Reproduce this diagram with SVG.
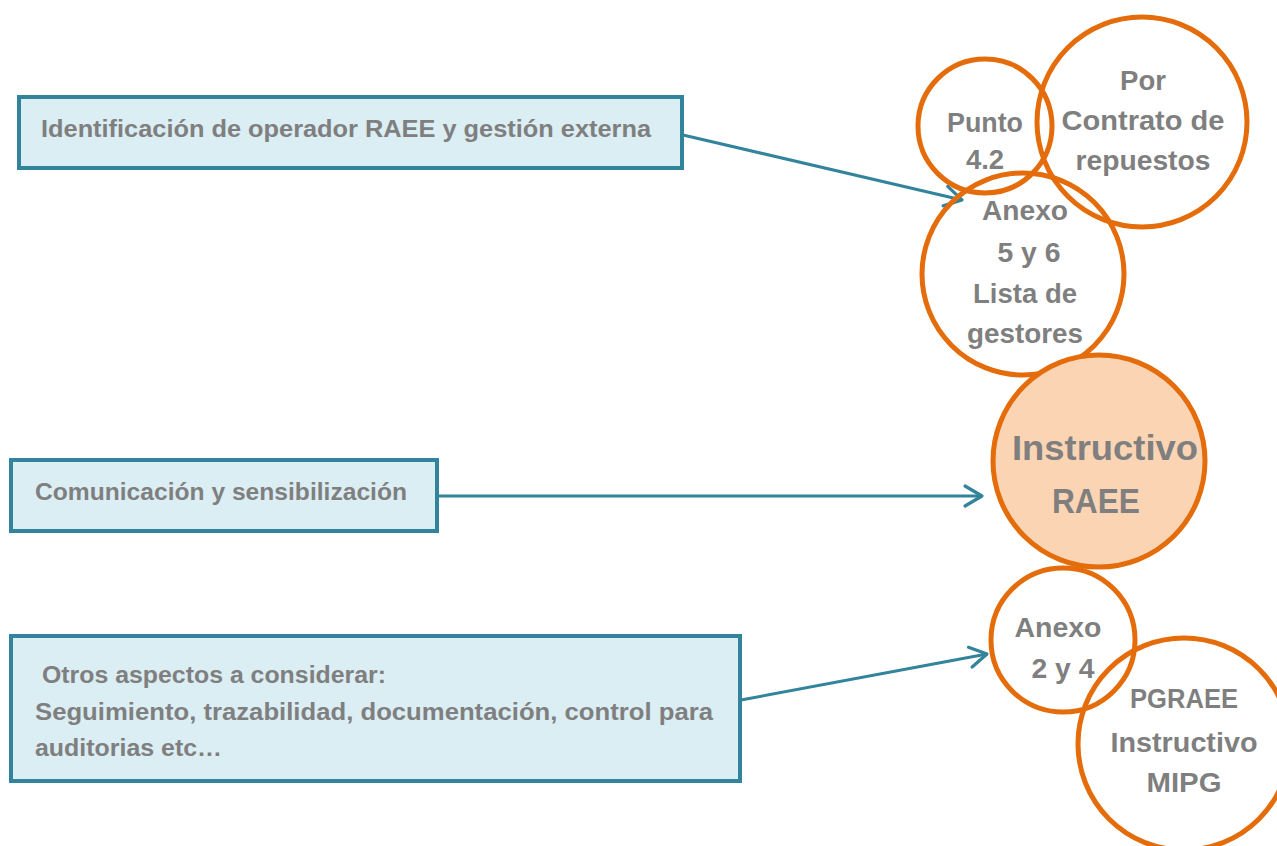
<svg xmlns="http://www.w3.org/2000/svg" width="1277" height="846" viewBox="0 0 1277 846">
<style>
.box{fill:#DBEEF4;stroke:#31849B;stroke-width:4}
.ring{fill:none;stroke:#E46C0A;stroke-width:5}
.t{font-family:"Liberation Sans",Arial,sans-serif;font-weight:bold;fill:#7F7F7F}
.bt{font-size:23.5px}
.ct{font-size:27.5px;text-anchor:middle}
.big{font-size:35px;text-anchor:middle}
.conn{stroke:#31849B;stroke-width:3;fill:none}
</style>
<defs>
<marker id="arr" markerUnits="userSpaceOnUse" viewBox="0 0 26 26" refX="23" refY="13" markerWidth="26" markerHeight="26" orient="auto">
<path d="M6,3 L23,13 L6,23" fill="none" stroke="#31849B" stroke-width="3.2" stroke-linecap="round" stroke-linejoin="round"/>
</marker>
</defs>
<rect width="1277" height="846" fill="#FFFFFF"/>
<g id="connectors">
<line class="conn" x1="683" y1="135" x2="962" y2="200" marker-end="url(#arr)"/>
<line class="conn" x1="438" y1="496" x2="982" y2="496" marker-end="url(#arr)"/>
<line class="conn" x1="741" y1="700" x2="987" y2="654" marker-end="url(#arr)"/>
</g>
<g id="box-identificacion">
<rect class="box" x="19" y="97" width="663" height="71"/>
<text class="t bt" x="41" y="137" textLength="610" lengthAdjust="spacingAndGlyphs">Identificación de operador RAEE y gestión externa</text>
</g>
<g id="box-comunicacion">
<rect class="box" x="11" y="460" width="426" height="71"/>
<text class="t bt" x="35" y="500" textLength="372" lengthAdjust="spacingAndGlyphs">Comunicación y sensibilización</text>
</g>
<g id="box-otros">
<rect class="box" x="11" y="636" width="729" height="145"/>
<text class="t bt" x="42" y="683" textLength="344" lengthAdjust="spacingAndGlyphs">Otros aspectos a considerar:</text>
<text class="t bt" x="35" y="720" textLength="678" lengthAdjust="spacingAndGlyphs">Seguimiento, trazabilidad, documentación, control para</text>
<text class="t bt" x="35" y="756" textLength="187" lengthAdjust="spacingAndGlyphs">auditorias etc…</text>
</g>
<g id="circle-punto">
<circle class="ring" cx="985" cy="126" r="67"/>
<text class="t ct" x="985" y="132" textLength="76" lengthAdjust="spacingAndGlyphs">Punto</text>
<text class="t ct" x="985" y="169">4.2</text>
</g>
<g id="circle-contrato">
<circle class="ring" cx="1142" cy="122" r="105"/>
<text class="t ct" x="1143" y="90">Por</text>
<text class="t ct" x="1143" y="130" textLength="163" lengthAdjust="spacingAndGlyphs">Contrato de</text>
<text class="t ct" x="1143" y="170" textLength="135" lengthAdjust="spacingAndGlyphs">repuestos</text>
</g>
<g id="circle-anexo56">
<circle class="ring" cx="1023" cy="274" r="101"/>
<text class="t ct" x="1025" y="220" textLength="86" lengthAdjust="spacingAndGlyphs">Anexo</text>
<text class="t ct" x="1029" y="262" textLength="63" lengthAdjust="spacingAndGlyphs">5 y 6</text>
<text class="t ct" x="1025" y="303" textLength="104" lengthAdjust="spacingAndGlyphs">Lista de</text>
<text class="t ct" x="1025" y="343" textLength="116" lengthAdjust="spacingAndGlyphs">gestores</text>
</g>
<g id="circle-instructivo">
<circle cx="1099" cy="461" r="106" fill="#FBD4B4" stroke="#E46C0A" stroke-width="5"/>
<text class="t big" x="1105" y="460" textLength="186" lengthAdjust="spacingAndGlyphs">Instructivo</text>
<text class="t big" x="1096" y="513" textLength="88" lengthAdjust="spacingAndGlyphs">RAEE</text>
</g>
<g id="circle-anexo24">
<circle class="ring" cx="1063" cy="640" r="72"/>
<text class="t ct" x="1058" y="637" textLength="87" lengthAdjust="spacingAndGlyphs">Anexo</text>
<text class="t ct" x="1063" y="678" textLength="63" lengthAdjust="spacingAndGlyphs">2 y 4</text>
</g>
<g id="circle-pgraee">
<circle class="ring" cx="1184" cy="744" r="106"/>
<text class="t ct" x="1184" y="708" textLength="108" lengthAdjust="spacingAndGlyphs">PGRAEE</text>
<text class="t ct" x="1184" y="752" textLength="147" lengthAdjust="spacingAndGlyphs">Instructivo</text>
<text class="t ct" x="1184" y="792" textLength="75" lengthAdjust="spacingAndGlyphs">MIPG</text>
</g>
</svg>
